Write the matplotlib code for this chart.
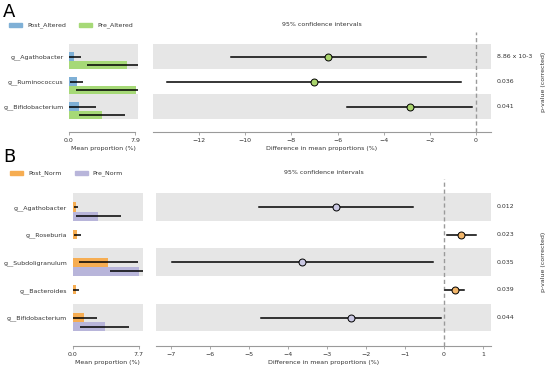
import matplotlib
matplotlib.use('Agg')
import matplotlib.pyplot as plt
from matplotlib.patches import Patch
import numpy as np

# -----------------------------------------------------------------------------
# data

# panel A
genera_a = ['g__Agathobacter', 'g__Ruminococcus', 'g__Bifidobacterium']
post_alt_mean = [0.6, 0.92, 1.2]
post_alt_sd = [0.85, 0.8, 2.0]
pre_alt_mean = [7.0, 7.98, 4.0]
pre_alt_sd = [4.8, 7.1, 2.75]
diff_a = [-6.4, -7.03, -2.87]
ci_low_a = [-10.62, -13.38, -5.6]
ci_high_a = [-2.17, -0.65, -0.16]
pvals_a = ['8.86 x 10-3', '0.036', '0.041']

# panel B
genera_b = ['g__Agathobacter', 'g__Roseburia', 'g__Subdoligranulum', 'g__Bacteroides', 'g__Bifidobacterium']
post_norm_mean = [0.38, 0.55, 4.15, 0.38, 1.35]
post_norm_sd = [0.2, 0.42, 3.4, 0.35, 1.45]
pre_norm_mean = [3.0, 0.05, 7.7, 0.05, 3.75]
pre_norm_sd = [2.6, 0.03, 3.35, 0.02, 2.85]
diff_b = [-2.76, 0.44, -3.63, 0.28, -2.38]
ci_low_b = [-4.74, 0.08, -6.97, 0.03, -4.7]
ci_high_b = [-0.78, 0.82, -0.29, 0.53, -0.07]
pvals_b = ['0.012', '0.023', '0.035', '0.039', '0.044']

# colours
blue = '#7fb0d6'
green = '#a6d977'
green_dot = '#a9d46c'
orange = '#f6ad52'
orange_dot = '#f2b66a'
purple = '#b8b5da'
purple_dot = '#c9c7e2'
band = '#e6e6e6'
spine_col = '#9a9a9a'
txt_col = '#333333'

W, H = 550.0, 370.0
fs = 4.5


def px_axes(fig, left, right, top, bottom):
    return fig.add_axes([left / W, 1 - bottom / H, (right - left) / W, (bottom - top) / H])


def style_axes(ax):
    for s in ['top', 'right', 'left']:
        ax.spines[s].set_visible(False)
    ax.spines['bottom'].set_color(spine_col)
    ax.spines['bottom'].set_linewidth(0.8)
    ax.tick_params(axis='x', colors=spine_col, labelcolor=txt_col, labelsize=fs, length=2.5, width=0.6, pad=2)
    ax.tick_params(axis='y', length=0, labelsize=fs, labelcolor=txt_col, pad=4)


def draw_panel(fig, rows, left_box, right_box, m1, s1, m2, s2, c1, c2,
               diff, lo, hi, dot1, dot2, pvals, xmax_tick, xmax_left, xlim_right, xticks_right):
    n = len(rows)
    y = np.arange(n)

    axl = px_axes(fig, *left_box)
    axr = px_axes(fig, *right_box)
    for ax in (axl, axr):
        for i in range(0, n, 2):
            ax.axhspan(i - 0.5, i + 0.5, color=band, lw=0, zorder=0)
        ax.set_ylim(n + 0.02, -1)
        style_axes(ax)

    # mean proportions
    h = 0.33
    axl.barh(y, m1, height=h, color=c1, lw=0, zorder=2)
    axl.barh(y + h, m2, height=h, color=c2, lw=0, zorder=2)
    axl.errorbar(m1, y, xerr=s1, fmt='none', ecolor='black', elinewidth=1.1, capsize=0, zorder=3)
    axl.errorbar(m2, y + h, xerr=s2, fmt='none', ecolor='black', elinewidth=1.1, capsize=0, zorder=3)
    axl.set_xlim(0, xmax_left)
    axl.set_xticks([0, xmax_tick])
    axl.set_xticklabels(['0.0', '%.1f' % xmax_tick])
    axl.spines['bottom'].set_bounds(0, xmax_tick)
    axl.set_yticks(y)
    axl.set_yticklabels(rows)
    axl.set_xlabel('Mean proportion (%)', fontsize=fs, labelpad=2, color=txt_col)

    # differences with CI
    axr.axvline(0, color=spine_col, ls=(0, (3, 2)), lw=1.0, zorder=1)
    for i in range(n):
        axr.plot([lo[i], hi[i]], [y[i], y[i]], color='black', lw=1.1, zorder=3)
        face = dot1 if diff[i] > 0 else dot2
        axr.plot(diff[i], y[i], 'o', ms=5, mfc=face, mec='black', mew=0.7, zorder=4)
        axr.text(1.0 + 6 / (right_box[1] - right_box[0]), y[i], pvals[i],
                 transform=axr.get_yaxis_transform(), ha='left', va='center', fontsize=fs, color=txt_col)
    axr.set_xlim(*xlim_right)
    axr.set_xticks(xticks_right)
    axr.set_xticklabels([str(t).replace('-', '\u2212') for t in xticks_right])
    axr.set_yticks([])
    axr.set_xlabel('Difference in mean proportions (%)', fontsize=fs, labelpad=2, color=txt_col)
    axr.set_title('95% confidence intervals', fontsize=fs, pad=4, color=txt_col)
    axr.text(1.0 + 52 / (right_box[1] - right_box[0]), (n - 1) / 2.0, 'p-value (corrected)',
             transform=axr.get_yaxis_transform(), rotation=90, ha='center', va='center', fontsize=fs,
             color=txt_col)
    return axl, axr


fig = plt.figure(figsize=(5.5, 3.7), dpi=100)

# panel A
axl_a, axr_a = draw_panel(fig, genera_a, (69, 138, 31.5, 132), (153, 491, 31.5, 132),
                          post_alt_mean, post_alt_sd, pre_alt_mean, pre_alt_sd, blue, green,
                          diff_a, ci_low_a, ci_high_a, green_dot, green_dot, pvals_a,
                          7.9, 8.26, (-14, 0.65), [-12, -10, -8, -6, -4, -2, 0])

# panel B
axl_b, axr_b = draw_panel(fig, genera_b, (72.7, 142.7, 179.3, 345.7), (156, 491, 179.3, 345.7),
                          post_norm_mean, post_norm_sd, pre_norm_mean, pre_norm_sd, orange, purple,
                          diff_b, ci_low_b, ci_high_b, orange_dot, purple_dot, pvals_b,
                          7.7, 8.14, (-7.38, 1.21), [-7, -6, -5, -4, -3, -2, -1, 0, 1])

# legends
leg_kw = dict(loc='center left', ncol=2, frameon=False, fontsize=fs, handlelength=2.1,
              handleheight=0.6, handletextpad=0.8, columnspacing=2.1, borderpad=0, borderaxespad=0)
leg_a = fig.legend([Patch(color=blue), Patch(color=green)], ['Post_Altered', 'Pre_Altered'],
                   bbox_to_anchor=(9 / W, 1 - 25.5 / H), **leg_kw)
leg_b = fig.legend([Patch(color=orange), Patch(color=purple)], ['Post_Norm', 'Pre_Norm'],
                   bbox_to_anchor=(10 / W, 1 - 173.5 / H), **leg_kw)
for leg in (leg_a, leg_b):
    for t in leg.get_texts():
        t.set_color(txt_col)

fig.text(3 / W, 1 - 12 / H, 'A', fontsize=13, ha='left', va='center')
fig.text(3 / W, 1 - 157 / H, 'B', fontsize=13, ha='left', va='center')

fig.savefig('out.png', dpi=100)
